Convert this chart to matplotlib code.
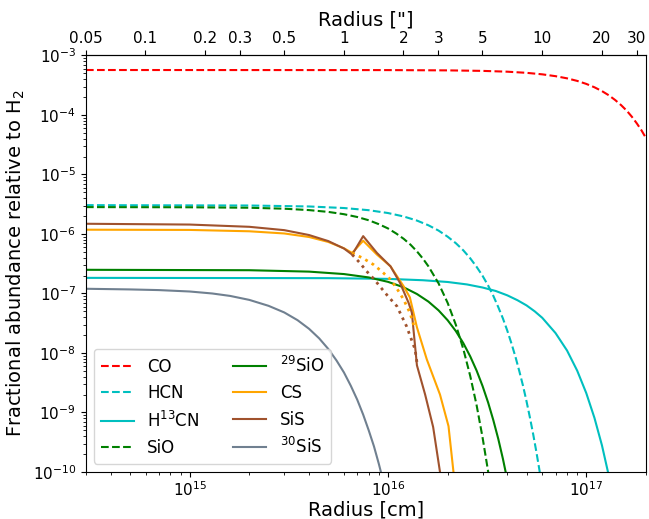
import matplotlib
matplotlib.use('Agg')
import matplotlib.pyplot as plt
from matplotlib.ticker import FixedLocator, FuncFormatter, NullLocator

# radius [cm] and fractional abundance
r_co = [3e14, 1e16, 2e16, 3e16, 4e16, 5e16, 6e16, 7e16, 8e16, 9e16, 1.0e17, 1.1e17, 1.2e17,
        1.3e17, 1.4e17, 1.5e17, 1.6e17, 1.7e17, 1.8e17, 1.9e17, 2.0e17]
f_co = [5.7e-4, 5.68e-4, 5.62e-4, 5.51e-4, 5.34e-4, 5.11e-4, 4.82e-4, 4.49e-4, 4.13e-4, 3.74e-4,
        3.33e-4, 2.92e-4, 2.52e-4, 2.14e-4, 1.78e-4, 1.46e-4, 1.18e-4, 9.3e-5, 7.2e-5, 5.5e-5, 4.1e-5]

r_hcn = [3e14, 2e15, 4e15, 6e15, 8e15, 1e16, 1.2e16, 1.4e16, 1.6e16, 1.8e16, 2e16, 2.2e16, 2.4e16,
         2.6e16, 2.8e16, 3e16, 3.2e16, 3.4e16, 3.6e16, 3.8e16, 4e16, 4.2e16, 4.4e16, 4.6e16, 4.8e16,
         5e16, 5.2e16, 5.4e16, 5.6e16, 5.8e16, 5.9e16]
f_hcn = [3.05e-6, 3.01e-6, 2.9e-6, 2.73e-6, 2.51e-6, 2.25e-6, 1.97e-6, 1.68e-6, 1.4e-6, 1.14e-6,
         9.0e-7, 7.0e-7, 5.3e-7, 3.9e-7, 2.8e-7, 1.98e-7, 1.36e-7, 9.1e-8, 5.9e-8, 3.8e-8, 2.36e-8,
         1.43e-8, 8.5e-9, 4.9e-9, 2.8e-9, 1.53e-9, 8.2e-10, 4.3e-10, 2.2e-10, 1.1e-10, 7.7e-11]

r_h13cn = [3e14, 5e15, 1e16, 1.5e16, 2e16, 2.5e16, 3e16, 3.5e16, 4e16, 4.5e16, 5e16, 5.5e16, 6e16,
           7e16, 8e16, 9e16, 1e17, 1.1e17, 1.2e17, 1.3e17]
f_h13cn = [1.83e-7, 1.81e-7, 1.76e-7, 1.67e-7, 1.56e-7, 1.42e-7, 1.26e-7, 1.1e-7, 9.3e-8, 7.7e-8,
           6.3e-8, 5.0e-8, 3.9e-8, 2.16e-8, 1.1e-8, 5.05e-9, 2.12e-9, 8.1e-10, 2.8e-10, 8.6e-11]

r_sio = [3e14, 1e15, 2e15, 3e15, 4e15, 5e15, 6e15, 7e15, 8e15, 9e15, 1e16, 1.1e16, 1.2e16, 1.3e16,
         1.4e16, 1.5e16, 1.6e16, 1.8e16, 2e16, 2.2e16, 2.4e16, 2.6e16, 2.8e16, 3e16, 3.2e16, 3.3e16]
f_sio = [2.83e-6, 2.81e-6, 2.76e-6, 2.66e-6, 2.52e-6, 2.35e-6, 2.15e-6, 1.93e-6, 1.7e-6, 1.46e-6,
         1.24e-6, 1.02e-6, 8.3e-7, 6.6e-7, 5.1e-7, 3.86e-7, 2.86e-7, 1.48e-7, 6.95e-8, 2.97e-8,
         1.16e-8, 4.1e-9, 1.32e-9, 3.8e-10, 1.02e-10, 5e-11]

r_29sio = [3e14, 2e15, 4e15, 6e15, 8e15, 1e16, 1.2e16, 1.4e16, 1.6e16, 1.8e16, 2e16, 2.2e16, 2.4e16,
           2.6e16, 2.8e16, 3e16, 3.2e16, 3.4e16, 3.6e16, 3.8e16, 4e16]
f_29sio = [2.5e-7, 2.46e-7, 2.33e-7, 2.12e-7, 1.86e-7, 1.57e-7, 1.27e-7, 9.8e-8, 7.3e-8, 5.2e-8,
           3.55e-8, 2.33e-8, 1.46e-8, 8.75e-9, 5.05e-9, 2.78e-9, 1.47e-9, 7.4e-10, 3.6e-10,
           1.66e-10, 7.3e-11]

r_cs = [3e14, 1e15, 2e15, 3e15, 4e15, 5e15, 6e15, 6.6e15, 7.5e15, 8.8e15, 1.03e16, 1.2e16, 1.29e16,
        1.4e16, 1.57e16, 1.83e16, 2.02e16, 2.14e16]
f_cs = [1.18e-6, 1.17e-6, 1.11e-6, 1.02e-6, 8.9e-7, 7.35e-7, 5.75e-7, 4.8e-7, 7.7e-7, 4.5e-7,
        2.86e-7, 1.32e-7, 8.6e-8, 2.7e-8, 7.8e-9, 2.0e-9, 5.9e-10, 1e-10]

r_sis = [3e14, 1e15, 2e15, 3e15, 4e15, 5e15, 6e15, 6.6e15, 7.5e15, 8.8e15, 1.03e16, 1.15e16, 1.27e16,
         1.32e16, 1.4e16, 1.54e16, 1.69e16, 1.83e16]
f_sis = [1.485e-6, 1.44e-6, 1.32e-6, 1.16e-6, 9.6e-7, 7.6e-7, 5.7e-7, 4.5e-7, 9.2e-7, 4.8e-7,
         2.86e-7, 1.51e-7, 7.0e-8, 4.75e-8, 6.2e-9, 2.0e-9, 5.7e-10, 1e-10]

# smooth continuations (no bump)
r_cs_dot = [6.6e15, 7.5e15, 8.45e15, 9.3e15, 1.03e16, 1.12e16, 1.2e16, 1.29e16, 1.37e16]
f_cs_dot = [4.8e-7, 3.9e-7, 3.06e-7, 2.35e-7, 1.72e-7, 1.15e-7, 7.9e-8, 4.75e-8, 2.5e-8]
r_sis_dot = [6.6e15, 7.2e15, 7.8e15, 8.5e15, 9.1e15, 1.0e16, 1.11e16, 1.24e16, 1.37e16, 1.4e16]
f_sis_dot = [4.5e-7, 3.3e-7, 2.37e-7, 1.75e-7, 1.32e-7, 9.0e-8, 6.1e-8, 2.83e-8, 1.15e-8, 7.0e-9]

r_30sis = [3e14, 5e14, 7e14, 1e15, 1.3e15, 1.6e15, 2e15, 2.5e15, 3e15, 3.5e15, 4e15, 4.5e15, 5e15,
           5.5e15, 6e15, 6.5e15, 7e15, 7.5e15, 8e15, 8.5e15, 9e15, 9.5e15]
f_30sis = [1.2e-7, 1.17e-7, 1.14e-7, 1.08e-7, 1.0e-7, 9.1e-8, 7.8e-8, 6.2e-8, 4.8e-8, 3.56e-8,
           2.55e-8, 1.76e-8, 1.17e-8, 7.5e-9, 4.7e-9, 2.8e-9, 1.64e-9, 9.2e-10, 5.0e-10, 2.7e-10,
           1.36e-10, 6.7e-11]

top_ticks = [0.05, 0.1, 0.2, 0.3, 0.5, 1, 2, 3, 5, 10, 20, 30]
cm_per_arcsec = 400 * 1.496e13

fig = plt.figure(figsize=(6.49, 5.19), dpi=100)
ax = fig.add_axes([0.132, 0.0906, 0.8633, 0.8025])

ax.loglog(r_co, f_co, '--', color='red', label='CO')
ax.loglog(r_hcn, f_hcn, '--', color='c', label='HCN')
ax.loglog(r_h13cn, f_h13cn, '-', color='c', label='H$^{13}$CN')
ax.loglog(r_sio, f_sio, '--', color='g', label='SiO')
ax.loglog(r_29sio, f_29sio, '-', color='g', label='$^{29}$SiO')
ax.loglog(r_cs, f_cs, '-', color='orange', label='CS')
ax.loglog(r_sis, f_sis, '-', color='sienna', label='SiS')
ax.loglog(r_30sis, f_30sis, '-', color='slategray', label='$^{30}$SiS')
ax.loglog(r_cs_dot, f_cs_dot, ':', color='orange', lw=2)
ax.loglog(r_sis_dot, f_sis_dot, ':', color='sienna', lw=2)

ax.set_xlim(2.99e14, 2e17)
ax.set_ylim(1e-10, 1e-3)
ax.set_xlabel('Radius [cm]', fontsize=14, labelpad=1)
ax.set_ylabel('Fractional abundance relative to H$_2$', fontsize=14)
ax.tick_params(labelsize=11)
ax.tick_params(axis='x', pad=2.5)

sec = ax.secondary_xaxis('top', functions=(lambda r: r / cm_per_arcsec, lambda a: a * cm_per_arcsec))
sec.xaxis.set_major_locator(FixedLocator(top_ticks))
sec.xaxis.set_major_formatter(FuncFormatter(lambda v, p: '%g' % v))
sec.xaxis.set_minor_locator(NullLocator())
sec.tick_params(labelsize=11)
sec.set_xlabel('Radius ["]', fontsize=14)

ax.legend(ncol=2, loc='lower left', fontsize=12)

fig.savefig('out.png', dpi=100)
